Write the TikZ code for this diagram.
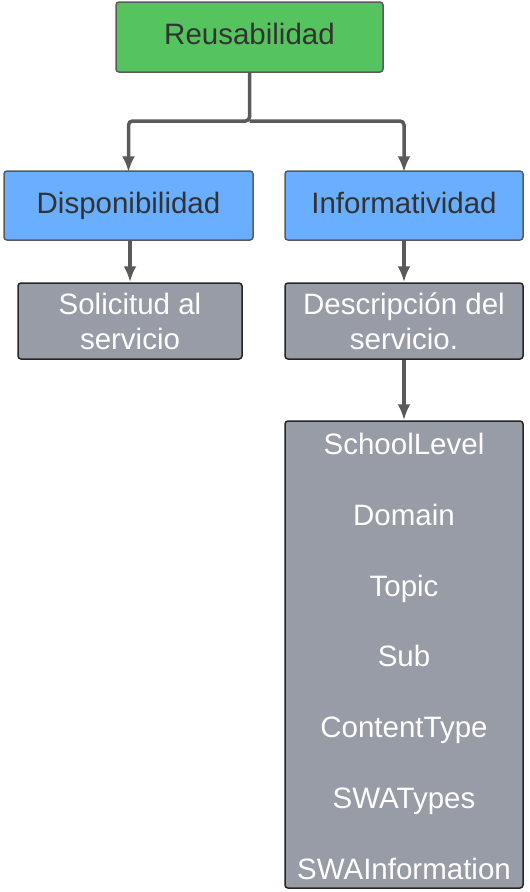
\documentclass[tikz,border=0pt]{standalone}
\usepackage{fontspec}
\setmainfont{Liberation Sans}
\usetikzlibrary{arrows.meta}
\definecolor{verde}{RGB}{85,196,95}
\definecolor{azul}{RGB}{106,174,255}
\definecolor{gris}{RGB}{151,156,166}
\definecolor{linea}{RGB}{90,90,90}
\definecolor{texto}{RGB}{51,51,51}
\tikzset{
  letra/.style={font=\fontsize{29.5}{35}\selectfont},
  fija/.style={text height=21pt,text depth=6pt},
  caja/.style={draw=linea,line width=1.5pt,rounded corners=3pt,
    letra,text=texto,align=center,inner sep=0pt},
  cajagris/.style={caja,fill=gris,draw=black!85,text=white},
  flecha/.style={->,draw=linea,line width=3.5pt,rounded corners=4pt}
}
\begin{document}
\begin{tikzpicture}[x=1pt,y=-1pt,>={Latex[length=16pt,width=13pt]}]
\useasboundingbox (0,0) rectangle (530,892);

\node[caja,fija,fill=verde,minimum width=267,minimum height=70] (reu) at (249.5,37) {Reusabilidad};
\node[caja,fija,fill=azul,minimum width=249,minimum height=69] (disp) at (128.5,205.5) {Disponibilidad};
\node[caja,fija,fill=azul,minimum width=238,minimum height=69] (info) at (404,205.5) {Informatividad};
\node[cajagris,minimum width=224,minimum height=76] (soli) at (130,321) {Solicitud al\\servicio};
\node[cajagris,minimum width=238,minimum height=76] (desc) at (404,321) {Descripción del\\servicio.};
\node[cajagris,minimum width=238,minimum height=467] (attr) at (404,654.5) {};

\foreach \t [count=\i from 0] in {SchoolLevel,Domain,Topic,Sub,ContentType,SWATypes,SWAInformation}
{
   \node[letra,fija,text=white] (attr\i) at (404,447+70.8*\i) {\t};
}

\coordinate (rama) at (249.5,121);
\draw[flecha] (reu.south) -- (rama) -| ([yshift=-2pt]disp.north);
\draw[flecha] (rama) -| ([yshift=-2pt]info.north);
\draw[flecha] (disp.south -| soli.north) -- (soli.north);
\draw[flecha] (info.south) -- (desc.north);
\draw[flecha] (desc.south) -- (attr.north);

\end{tikzpicture}
\end{document}
